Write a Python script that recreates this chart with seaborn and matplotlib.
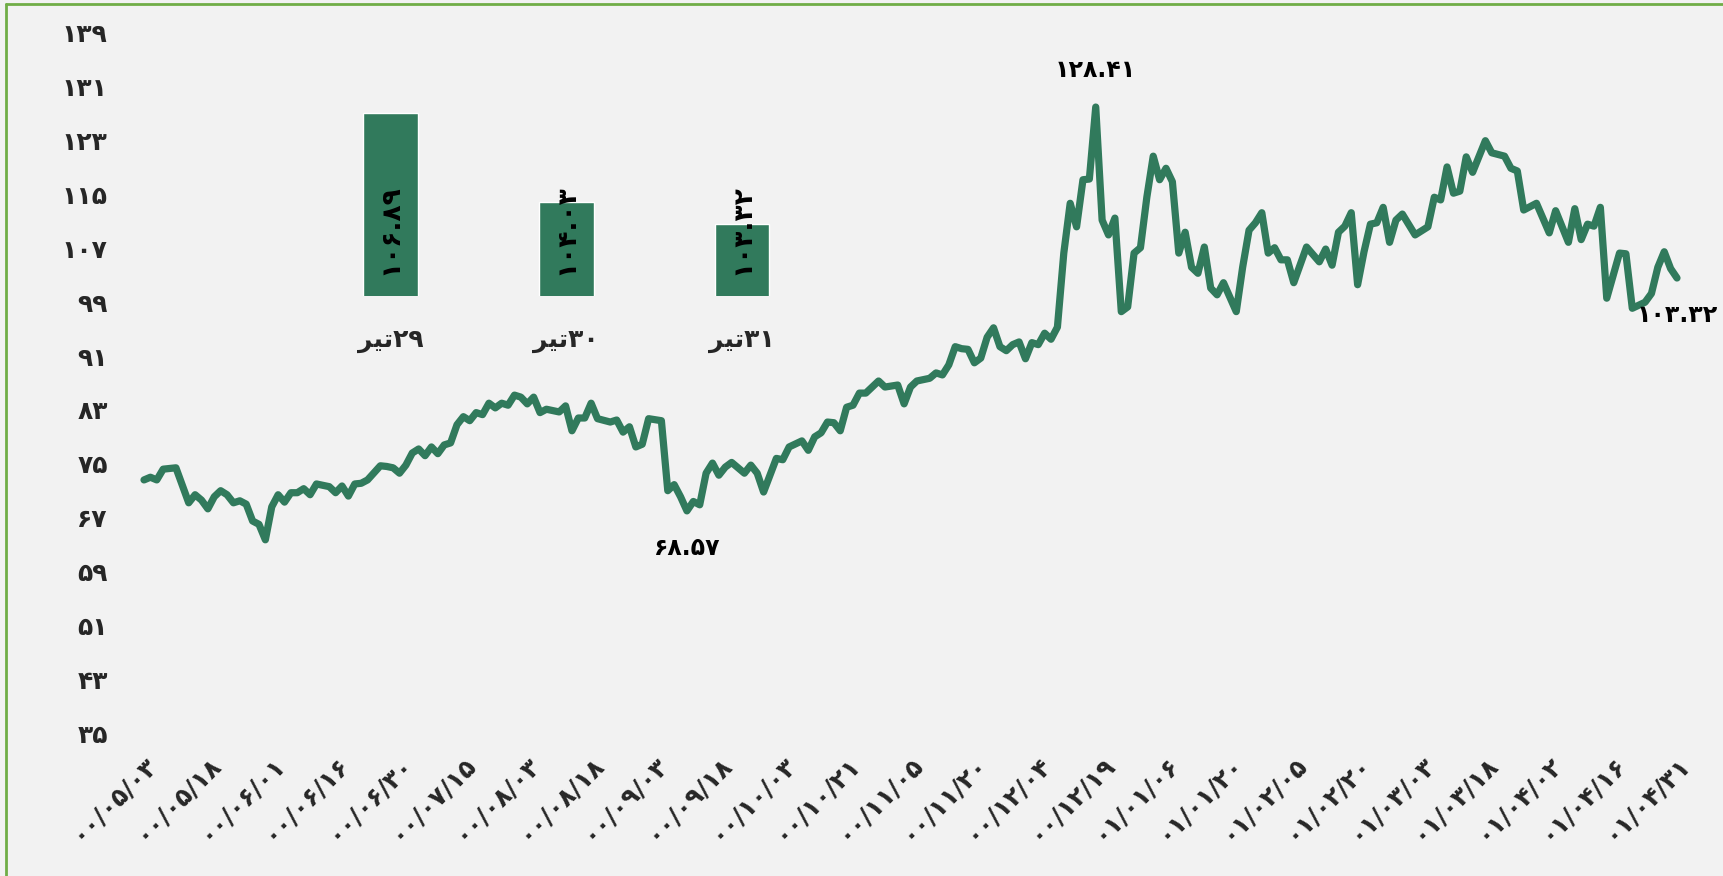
import numpy as np
import pandas as pd
import seaborn as sns
import matplotlib.pyplot as plt
from matplotlib.lines import Line2D

# ---------------------------------------------------------------
# داده‌ها: روز معاملاتی (از ۰۰/۰۵/۰۳ تا ۰۱/۰۴/۳۱) و مقدار شاخص
# ---------------------------------------------------------------
day = [0, 1, 2, 3, 5, 6, 7, 8, 9, 10, 11, 12, 13, 14, 15, 16, 17, 18, 19, 20,
       21, 22, 23, 24, 25, 26, 27, 29, 30, 31, 32, 33, 34, 35, 37, 38, 39, 40,
       41, 42, 43, 44, 45, 46, 47, 48, 49, 50, 51, 52, 53, 54, 55, 56, 57, 58,
       59, 60, 61, 62, 63, 65, 66, 67, 68, 69, 70, 71, 73, 74, 75, 76, 77, 78,
       79, 81, 82, 83, 84, 85, 86, 87, 88, 89, 90, 91, 92, 94, 95, 96, 97, 98,
       99, 100, 101, 103, 104, 105, 106, 107, 108, 109, 110, 111, 112, 113,
       115, 116, 118, 119, 120, 121, 123, 124, 125, 126, 127, 128, 129, 130,
       131, 132, 133, 134, 135, 136, 137, 138, 139, 140, 141, 142, 143, 144,
       145, 146, 147, 148, 149, 150, 151, 152, 153, 154, 155, 156, 157, 158,
       159, 160, 161, 162, 163, 164, 165, 166, 167, 168, 169, 171, 172, 173,
       174, 175, 176, 177, 178, 179, 180, 182, 184, 185, 186, 187, 188, 189,
       190, 191, 192, 193, 194, 195, 196, 197, 199, 201, 202, 203, 204, 205,
       206, 207, 208, 210, 211, 213, 214, 215, 216, 218, 220, 221, 223, 224,
       225, 226, 227, 228, 229, 231, 232, 233, 235, 236, 237, 238, 239, 240]

value = [72.6, 73.0, 72.6, 74.2, 74.4, 71.8, 69.2, 70.4, 69.6, 68.3, 70.1, 71.0,
         70.4, 69.2, 69.5, 69.0, 66.5, 66.0, 63.7, 68.6, 70.4, 69.3, 70.7, 70.7,
         71.3, 70.4, 72.0, 71.6, 70.7, 71.7, 70.2, 72.0, 72.1, 72.6, 74.7, 74.6,
         74.4, 73.6, 74.8, 76.6, 77.2, 76.2, 77.5, 76.5, 77.8, 78.1, 80.8, 82.0,
         81.4, 82.6, 82.3, 84.0, 83.3, 84.0, 83.7, 85.2, 84.9, 83.9, 84.9, 82.6,
         83.1, 82.7, 83.6, 79.9, 81.8, 81.8, 84.0, 81.7, 81.2, 81.5, 79.7, 80.5,
         77.5, 77.9, 81.7, 81.4, 71.0, 71.9, 70.1, 68.0, 69.4, 68.9, 73.6, 75.1,
         73.3, 74.5, 75.2, 73.6, 74.8, 73.6, 70.8, 73.3, 75.8, 75.6, 77.5, 78.4,
         77.0, 79.0, 79.6, 81.2, 81.1, 79.9, 83.4, 83.7, 85.5, 85.5, 87.3, 86.4,
         86.7, 83.9, 86.4, 87.3, 87.7, 88.5, 88.2, 89.7, 92.4, 92.1, 92.0, 90.0,
         90.7, 93.8, 95.2, 92.4, 91.8, 92.7, 93.1, 90.6, 93.0, 92.7, 94.4, 93.5,
         95.3, 106.3, 113.7, 110.2, 117.2, 117.3, 128.0, 111.2, 109.0, 111.5,
         97.6, 98.3, 106.3, 107.1, 114.6, 120.7, 117.2, 118.9, 116.9, 106.3,
         109.4, 104.2, 103.3, 107.2, 101.1, 100.1, 101.9, 97.6, 104.2, 109.7,
         110.8, 112.3, 106.3, 107.1, 105.3, 105.3, 101.9, 107.2, 105.0, 106.9,
         104.5, 109.4, 110.3, 112.3, 101.6, 106.5, 110.6, 110.8, 113.1, 107.9,
         111.2, 112.1, 109.0, 110.2, 114.6, 114.2, 119.1, 115.2, 115.5, 120.6,
         118.3, 123.0, 121.2, 120.7, 118.9, 118.5, 112.7, 113.7, 109.3, 112.6,
         107.9, 112.9, 108.3, 110.6, 110.3, 113.1, 99.6, 106.3, 106.2, 98.1,
         99.0, 100.3, 104.2, 106.5, 104.0, 102.6]

assert len(day) == len(value)

# برچسب‌های محور افقی (هر ۱۰ روز معاملاتی)
x_tick_days = [0, 10, 20, 30, 40, 50, 60, 70, 80, 90, 100, 110, 120, 130, 140,
               150, 160, 170, 180, 190, 200, 210, 220, 230, 240]
x_tick_labels = ['۰۰/۰۵/۰۳', '۰۰/۰۵/۱۸', '۰۰/۰۶/۰۱', '۰۰/۰۶/۱۶', '۰۰/۰۶/۳۰',
                 '۰۰/۰۷/۱۵', '۰۰/۰۸/۰۳', '۰۰/۰۸/۱۸', '۰۰/۰۹/۰۳', '۰۰/۰۹/۱۸',
                 '۰۰/۱۰/۰۳', '۰۰/۱۰/۲۱', '۰۰/۱۱/۰۵', '۰۰/۱۱/۲۰', '۰۰/۱۲/۰۴',
                 '۰۰/۱۲/۱۹', '۰۱/۰۱/۰۶', '۰۱/۰۱/۲۰', '۰۱/۰۲/۰۵', '۰۱/۰۲/۲۰',
                 '۰۱/۰۳/۰۳', '۰۱/۰۳/۱۸', '۰۱/۰۴/۰۲', '۰۱/۰۴/۱۶', '۰۱/۰۴/۳۱']
y_ticks = [35, 43, 51, 59, 67, 75, 83, 91, 99, 107, 115, 123, 131, 139]

# نقاط برچسب‌خورده روی نمودار خطی
note_days = [149, 85, 240]
note_texts = ['۱۲۸.۴۱', '۶۸.۵۷', '۱۰۳.۳۲']
note_side = [1, -1, -1]   # 1 = بالا، -1 = پایین

# نمودار ستونی کوچک: سه روز آخر تیر
bar_days = ['۲۹', '۳۰', '۳۱']
bar_values = [106.89, 104.03, 103.32]
bar_texts = ['۱۰۶.۸۹', '۱۰۴.۰۳', '۱۰۳.۳۲']

# «تیر» با شکل‌های نمایشی، به ترتیب دیداری چپ به راست
# (matplotlib حروف عربی را به هم نمی‌چسباند و راست‌به‌چپ نمی‌نویسد)
TIR = '\uFEAE\uFBFF\uFE97'

FA = str.maketrans('0123456789', '۰۱۲۳۴۵۶۷۸۹')
GREEN = '#317A5C'
BG = '#F2F2F2'

sns.set_theme(style="white")
plt.rcParams['font.family'] = ['DejaVu Sans']

W, H = 1724, 876
fig = plt.figure(figsize=(W / 100, H / 100), dpi=100, facecolor=BG)

# ---- نمودار اصلی ----
ax = fig.add_axes([130 / W, 1 - 733 / H, 1560 / W, 700 / H], facecolor=BG)
df = pd.DataFrame({'day': day, 'value': value})
sns.lineplot(data=df, x='day', y='value', ax=ax, color=GREEN, linewidth=5.2,
             solid_joinstyle='round', solid_capstyle='round')

ax.set_xlim(-14 / 6.3875, 240 + 13 / 6.3875)
ax.set_ylim(35, 139)
ax.set_yticks(y_ticks)
ax.set_yticklabels([str(v).translate(FA) for v in y_ticks], fontsize=18,
                   fontweight='bold')
ax.set_xticks(x_tick_days)
ax.set_xticklabels(x_tick_labels, rotation=45, ha='right',
                   rotation_mode='anchor', fontsize=18, fontweight='bold')
ax.tick_params(axis='y', length=0, pad=16)
ax.tick_params(axis='x', length=0, pad=13)
ax.set_xlabel('')
ax.set_ylabel('')
for s in ax.spines.values():
    s.set_visible(False)

for d, t, side in zip(note_days, note_texts, note_side):
    v = value[day.index(d)]
    ax.annotate(t, xy=(d, v), xytext=(0, 27 * side), textcoords='offset points',
                ha='center', va='center', fontsize=17, fontweight='bold',
                color='black')

# ---- نمودار ستونی داخلی ----
ax2 = fig.add_axes([302.5 / W, 1 - 296 / H, 527.5 / W, (296 - 109.6) / H])
ax2.patch.set_alpha(0)
sns.barplot(x=[TIR + d for d in bar_days], y=bar_values, ax=ax2,
            color=GREEN, saturation=1, width=0.31)
ax2.set_ylim(101, 107)
ax2.set_xlim(-0.5, 2.5)
ax2.set_yticks([])
ax2.tick_params(axis='x', length=0, pad=24, labelsize=18)
for lab in ax2.get_xticklabels():
    lab.set_fontweight('bold')
ax2.set_xlabel('')
ax2.set_ylabel('')
for s in ax2.spines.values():
    s.set_visible(False)
for i, t in enumerate(bar_texts):
    ax2.annotate(t, xy=(i, 101), xytext=(0, 15), textcoords='offset points',
                 rotation=90, ha='center', va='bottom', fontsize=19,
                 fontweight='bold', color='black')

# ---- کادر سبز بالا و چپ ----
fig.add_artist(Line2D([6 / W, 6 / W], [0, 1 - 4 / H], color='#70AD47', lw=2))
fig.add_artist(Line2D([6 / W, 1], [1 - 4 / H, 1 - 4 / H], color='#70AD47', lw=2))

fig.savefig('out.png', dpi=100, facecolor=BG)
